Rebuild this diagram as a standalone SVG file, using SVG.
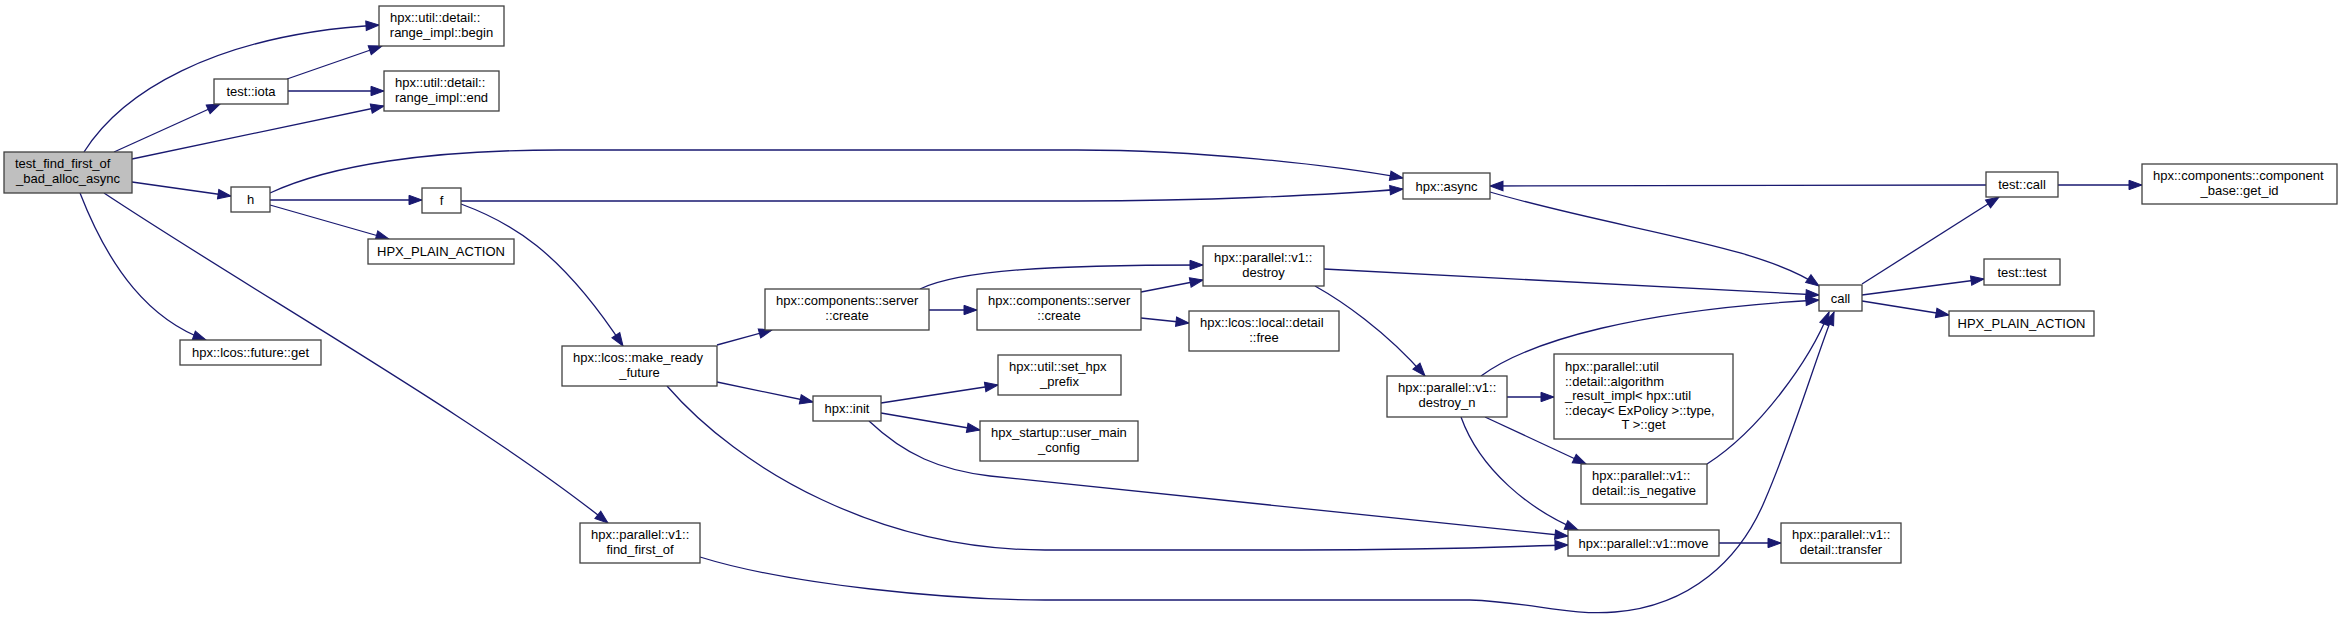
<svg xmlns="http://www.w3.org/2000/svg" width="2343" height="620" viewBox="0 0 2343 620">
<style>
.node rect{fill:#ffffff;stroke:#404040;stroke-width:1.3}
.node.root rect{fill:#bfbfbf}
.node text{font-family:"Liberation Sans",Arial,Helvetica,sans-serif;font-size:13px;fill:#000000}
.node text.c{text-anchor:middle}
.node text.l{text-anchor:start}
.edges path{fill:none;stroke:#191970;stroke-width:1.3;marker-end:url(#arr)}
</style>
<defs>
<marker id="arr" markerUnits="userSpaceOnUse" markerWidth="15" markerHeight="11" refX="13" refY="5" orient="auto" overflow="visible">
<path d="M0,0.3 L13,5 L0,9.7 z" fill="#191970" stroke="#191970" stroke-width="1"/>
</marker>
</defs>
<rect width="2343" height="620" fill="#ffffff"/>
<g id="edges" class="edges">
<path d="M84,152 C120,95 210,35 379,25"/>
<path d="M114,152 L220,104"/>
<path d="M132,159 L384,106"/>
<path d="M132,182 L231,196"/>
<path d="M80,193 C110,270 150,320 206,340"/>
<path d="M104,193 C250,290 480,420 608,523"/>
<path d="M287,79 L382,46"/>
<path d="M288,91 L384,91"/>
<path d="M270,193 C330,165 430,150 560,150 L1077,150 C1200,150 1330,165 1403,178"/>
<path d="M270,200 L422,200"/>
<path d="M270,205 L389,239"/>
<path d="M461,201 L1077,201 C1200,201 1330,195 1403,189"/>
<path d="M461,204 C510,222 560,250 623,346"/>
<path d="M717,345 L772,330"/>
<path d="M717,382 L813,402"/>
<path d="M667,386 C740,470 880,550 1045,550 L1300,550 C1450,550 1520,546 1568,545"/>
<path d="M929,310 L977,310"/>
<path d="M920,289 C960,270 1050,265 1203,265"/>
<path d="M1141,292 L1203,280"/>
<path d="M1141,318 L1189,323"/>
<path d="M1324,269 L1819,295"/>
<path d="M1315,286 C1340,300 1385,330 1425,376"/>
<path d="M881,403 L998,385"/>
<path d="M881,413 L980,430"/>
<path d="M869,421 C905,455 940,470 990,476 L1568,536"/>
<path d="M1490,192 C1620,230 1760,245 1819,286"/>
<path d="M1862,284 L1999,197"/>
<path d="M1862,295 L1984,279"/>
<path d="M1862,301 L1949,315"/>
<path d="M1986,185 L1490,186"/>
<path d="M2058,185 L2142,185"/>
<path d="M1481,376 C1530,340 1640,310 1819,300"/>
<path d="M1507,397 L1554,397"/>
<path d="M1485,417 L1586,464"/>
<path d="M1461,417 C1480,470 1530,510 1578,530"/>
<path d="M1707,464 C1760,430 1810,360 1829,312"/>
<path d="M1719,543 L1781,543"/>
<path d="M700,557 C790,585 950,600 1045,600 L1470,600 C1530,602 1570,616 1615,612 C1690,606 1740,560 1765,500 C1795,430 1815,360 1834,312"/>
</g>
<g id="n0" class="node root"><rect x="4" y="152" width="128" height="41"/><text class="l" x="15" y="168">test_find_first_of</text><text class="c" x="68" y="182.5">_bad_alloc_async</text></g>
<g id="n1" class="node"><rect x="379" y="6" width="125" height="40"/><text class="l" x="390" y="22">hpx::util::detail::</text><text class="c" x="441.5" y="36.5">range_impl::begin</text></g>
<g id="n2" class="node"><rect x="214" y="79" width="74" height="25"/><text class="c" x="251" y="96">test::iota</text></g>
<g id="n3" class="node"><rect x="384" y="71" width="115" height="40"/><text class="l" x="395" y="87">hpx::util::detail::</text><text class="c" x="441.5" y="101.5">range_impl::end</text></g>
<g id="n4" class="node"><rect x="231" y="187" width="39" height="25"/><text class="c" x="250.5" y="204">h</text></g>
<g id="n5" class="node"><rect x="422" y="188" width="39" height="25"/><text class="c" x="441.5" y="205">f</text></g>
<g id="n6" class="node"><rect x="368" y="239" width="146" height="25"/><text class="c" x="441" y="256">HPX_PLAIN_ACTION</text></g>
<g id="n7" class="node"><rect x="180" y="340" width="141" height="25"/><text class="c" x="250.5" y="357">hpx::lcos::future::get</text></g>
<g id="n8" class="node"><rect x="562" y="346" width="155" height="40"/><text class="l" x="573" y="362">hpx::lcos::make_ready</text><text class="c" x="639.5" y="376.5">_future</text></g>
<g id="n9" class="node"><rect x="580" y="523" width="120" height="40"/><text class="l" x="591" y="539">hpx::parallel::v1::</text><text class="c" x="640" y="553.5">find_first_of</text></g>
<g id="n10" class="node"><rect x="765" y="289" width="164" height="41"/><text class="l" x="776" y="305">hpx::components::server</text><text class="c" x="847" y="319.5">::create</text></g>
<g id="n11" class="node"><rect x="977" y="289" width="164" height="41"/><text class="l" x="988" y="305">hpx::components::server</text><text class="c" x="1059" y="319.5">::create</text></g>
<g id="n12" class="node"><rect x="1203" y="246" width="121" height="40"/><text class="l" x="1214" y="262">hpx::parallel::v1::</text><text class="c" x="1263.5" y="276.5">destroy</text></g>
<g id="n13" class="node"><rect x="1189" y="311" width="150" height="40"/><text class="l" x="1200" y="327">hpx::lcos::local::detail</text><text class="c" x="1264" y="341.5">::free</text></g>
<g id="n14" class="node"><rect x="813" y="396" width="68" height="25"/><text class="c" x="847" y="413">hpx::init</text></g>
<g id="n15" class="node"><rect x="998" y="355" width="123" height="40"/><text class="l" x="1009" y="371">hpx::util::set_hpx</text><text class="c" x="1059.5" y="385.5">_prefix</text></g>
<g id="n16" class="node"><rect x="980" y="421" width="158" height="40"/><text class="l" x="991" y="437">hpx_startup::user_main</text><text class="c" x="1059" y="451.5">_config</text></g>
<g id="n17" class="node"><rect x="1403" y="173" width="87" height="26"/><text class="c" x="1446.5" y="190.5">hpx::async</text></g>
<g id="n18" class="node"><rect x="1819" y="285" width="43" height="26"/><text class="c" x="1840.5" y="302.5">call</text></g>
<g id="n19" class="node"><rect x="1986" y="172" width="72" height="25"/><text class="c" x="2022" y="189">test::call</text></g>
<g id="n20" class="node"><rect x="2142" y="164" width="195" height="40"/><text class="l" x="2153" y="180">hpx::components::component</text><text class="c" x="2239.5" y="194.5">_base::get_id</text></g>
<g id="n21" class="node"><rect x="1984" y="259" width="76" height="26"/><text class="c" x="2022" y="276.5">test::test</text></g>
<g id="n22" class="node"><rect x="1949" y="311" width="145" height="25"/><text class="c" x="2021.5" y="328">HPX_PLAIN_ACTION</text></g>
<g id="n23" class="node"><rect x="1387" y="376" width="120" height="41"/><text class="l" x="1398" y="392">hpx::parallel::v1::</text><text class="c" x="1447" y="406.5">destroy_n</text></g>
<g id="n24" class="node"><rect x="1554" y="354" width="179" height="85"/><text class="l" x="1565" y="371">hpx::parallel::util</text><text class="l" x="1565" y="385.5">::detail::algorithm</text><text class="l" x="1565" y="400">_result_impl&lt; hpx::util</text><text class="l" x="1565" y="414.5">::decay&lt; ExPolicy &gt;::type,</text><text class="c" x="1643.5" y="429">T &gt;::get</text></g>
<g id="n25" class="node"><rect x="1581" y="464" width="126" height="40"/><text class="l" x="1592" y="480">hpx::parallel::v1::</text><text class="c" x="1644" y="494.5">detail::is_negative</text></g>
<g id="n26" class="node"><rect x="1568" y="530" width="151" height="26"/><text class="c" x="1643.5" y="547.5">hpx::parallel::v1::move</text></g>
<g id="n27" class="node"><rect x="1781" y="523" width="120" height="40"/><text class="l" x="1792" y="539">hpx::parallel::v1::</text><text class="c" x="1841" y="553.5">detail::transfer</text></g>
</svg>
